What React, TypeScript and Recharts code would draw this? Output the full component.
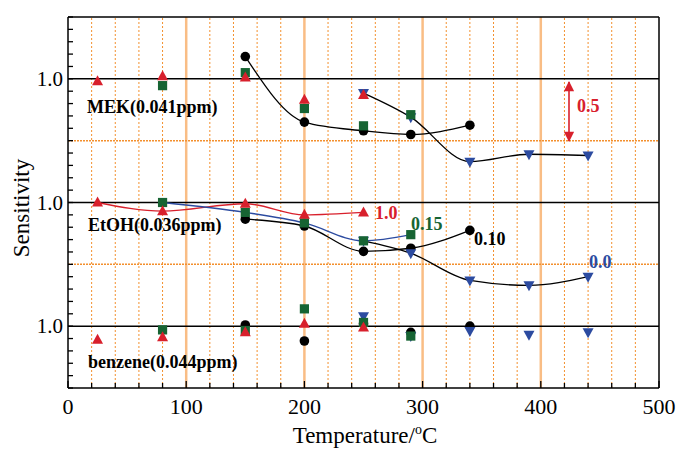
import React from 'react';
import { ComposedChart, Line, Scatter, XAxis, YAxis, ReferenceLine } from 'recharts';

// temperatures (°C) for each marker type
const tRed = [25, 80, 150, 200, 250];
const tGreen = [80, 150, 200, 250, 290];
const tBlack = [150, 200, 250, 290, 340];
const tBlue = [250, 290, 340, 390, 440];

// normalised sensitivity, MEK (0.041ppm) - drawn in the top panel
const mekRed = [0.98, 1.02, 1.01, 0.83, 0.87];
const mekGreen = [0.945, 1.05, 0.76, 0.62, 0.71];
const mekBlack = [1.18, 0.65, 0.58, 0.55, 0.625];
const mekBlue = [0.885, 0.69, 0.33, 0.39, 0.38];

// EtOH (0.036ppm) - middle panel
const etohRed = [1.0, 0.93, 0.99, 0.9, 0.92];
const etohGreen = [1.0, 0.92, 0.835, 0.69, 0.74];
const etohBlack = [0.865, 0.81, 0.605, 0.63, 0.775];
const etohBlue = [0.69, 0.59, 0.37, 0.33, 0.4];

// benzene (0.044ppm) - bottom panel
const benRed = [0.89, 0.91, 0.95, 1.02, 0.99];
const benGreen = [0.97, 0.965, 1.14, 1.03, 0.92];
const benBlack = [1.01, 0.88, 1.02, 0.95, 1.0];
const benBlue = [1.08, 0.92, 0.96, 0.93, 0.95];

// panel offsets on the stacked axis
const offMEK = 2;
const offEtOH = 1;
const offBen = 0;

const xTicks = [0, 20, 40, 60, 80, 100, 120, 140, 160, 180, 200, 220, 240, 260, 280, 300, 320, 340, 360, 380, 400, 420, 440, 460, 480, 500];
const xLabels = [0, 100, 200, 300, 400, 500];
const yTicks = [0.5, 0.6, 0.7, 0.8, 0.9, 1.0, 1.1, 1.2, 1.3, 1.4, 1.5, 1.6, 1.7, 1.8, 1.9, 2.0, 2.1, 2.2, 2.3, 2.4, 2.5, 2.6, 2.7, 2.8, 2.9, 3.0, 3.1, 3.2, 3.3, 3.4, 3.5];
const yLabelAt = [1, 2, 3];
const yLabelText = '1.0';

const gridDashed = [20, 40, 60, 80, 120, 140, 160, 180, 220, 240, 260, 280, 320, 340, 360, 380, 420, 440, 460, 480];
const gridSolid = [100, 200, 300, 400];
const panelLines = [1, 2, 3];
const halfLines = [1.5, 2.5];

const RED = '#d8202c';
const GREEN = '#176433';
const BLUE = '#2c4ba0';
const BLACK = '#000';
const ORANGE = '#f3902e';
const FONT = '"Liberation Serif", "DejaVu Serif", serif';

const pts = (t: number[], v: number[], off: number) => t.map((x, i) => ({ x, y: v[i] + off }));

const marker = (kind: string, color: string) => (props: any) => {
  const { cx, cy } = props;
  if (cx == null || cy == null) return <g />;
  if (kind === 'circle') return <circle cx={cx} cy={cy} r={4.8} fill={color} />;
  if (kind === 'square') return <rect x={cx - 4.6} y={cy - 4.6} width={9.2} height={9.2} fill={color} />;
  if (kind === 'up')
    return <polygon points={`${cx},${cy - 6} ${cx - 5.5},${cy + 4} ${cx + 5.5},${cy + 4}`} fill={color} />;
  return <polygon points={`${cx - 5.5},${cy - 4} ${cx + 5.5},${cy - 4} ${cx},${cy + 6}`} fill={color} />;
};

const XTick = (props: any) => {
  const { x, y, payload } = props;
  const v = payload.value;
  const major = v % 100 === 0;
  return (
    <g>
      <line x1={x} y1={y} x2={x} y2={y - (major ? 7 : 5)} stroke={BLACK} strokeWidth={1.3} />
      {xLabels.includes(v) && (
        <text x={x} y={y + 26} textAnchor="middle" fontFamily={FONT} fontSize={22} fill={BLACK}>
          {v}
        </text>
      )}
    </g>
  );
};

const YTick = (props: any) => {
  const { x, y, payload } = props;
  const v = Math.round(payload.value * 10) / 10;
  const plotLeft = x + 6;
  return (
    <g>
      <line x1={plotLeft} y1={y} x2={plotLeft + 5} y2={y} stroke={BLACK} strokeWidth={1.3} />
      {yLabelAt.includes(v) && (
        <text x={x + 1} y={y + 7} textAnchor="end" fontFamily={FONT} fontSize={21} fill={BLACK}>
          {yLabelText}
        </text>
      )}
    </g>
  );
};

const curves = [
  { data: pts(tBlack, mekBlack, offMEK), color: BLACK },
  { data: pts(tBlue, mekBlue, offMEK), color: BLACK },
  { data: pts(tRed, etohRed, offEtOH), color: RED },
  { data: pts(tGreen, etohGreen, offEtOH), color: BLUE },
  { data: pts(tBlack, etohBlack, offEtOH), color: BLACK },
  { data: pts(tBlue, etohBlue, offEtOH), color: BLACK },
];

const markers = [
  { data: [...pts(tBlack, mekBlack, offMEK), ...pts(tBlack, etohBlack, offEtOH), ...pts(tBlack, benBlack, offBen)], kind: 'circle', color: BLACK },
  { data: [...pts(tBlue, mekBlue, offMEK), ...pts(tBlue, etohBlue, offEtOH), ...pts(tBlue, benBlue, offBen)], kind: 'down', color: BLUE },
  { data: [...pts(tGreen, mekGreen, offMEK), ...pts(tGreen, etohGreen, offEtOH), ...pts(tGreen, benGreen, offBen)], kind: 'square', color: GREEN },
  { data: [...pts(tRed, mekRed, offMEK), ...pts(tRed, etohRed, offEtOH), ...pts(tRed, benRed, offBen)], kind: 'up', color: RED },
];

const txt = (x: number, y: number, s: string, color: string, size = 18) => (
  <text x={x} y={y} fontFamily={FONT} fontSize={size} fontWeight="bold" fill={color}>
    {s}
  </text>
);

export default function App() {
  return (
    <div style={{ position: 'absolute', left: 0, top: 0, width: 678, height: 449, background: '#fff' }}>
      <ComposedChart width={678} height={449} margin={{ top: 17, right: 19, left: 8, bottom: 0 }}>
        <XAxis
          dataKey="x"
          type="number"
          domain={[0, 500]}
          ticks={xTicks}
          interval={0}
          tickSize={0}
          tickMargin={0}
          tick={<XTick />}
          height={61}
          axisLine={{ stroke: BLACK, strokeWidth: 1.5 }}
          allowDataOverflow
        />
        <YAxis
          dataKey="y"
          type="number"
          domain={[0.5, 3.5]}
          ticks={yTicks}
          interval={0}
          tickSize={0}
          tickMargin={6}
          tick={<YTick />}
          width={60}
          axisLine={{ stroke: BLACK, strokeWidth: 1.5 }}
          allowDataOverflow
        />
        {gridDashed.map((v) => (
          <ReferenceLine key={'d' + v} x={v} stroke={ORANGE} strokeWidth={1} strokeDasharray="2 2" />
        ))}
        {gridSolid.map((v) => (
          <ReferenceLine key={'s' + v} x={v} stroke="#f9bd85" strokeWidth={2.5} />
        ))}
        {halfLines.map((v) => (
          <ReferenceLine key={'h' + v} y={v} stroke={ORANGE} strokeWidth={1.5} strokeDasharray="2 1" />
        ))}
        {panelLines.map((v) => (
          <ReferenceLine key={'p' + v} y={v} stroke={BLACK} strokeWidth={1.5} />
        ))}
        <ReferenceLine y={3.5} stroke={BLACK} strokeWidth={1.5} />
        <ReferenceLine x={500} stroke={BLACK} strokeWidth={1.5} />
        {curves.map((c, i) => (
          <Line
            key={'c' + i}
            data={c.data}
            dataKey="y"
            type="monotone"
            stroke={c.color}
            strokeWidth={1.3}
            dot={false}
            activeDot={false}
            isAnimationActive={false}
          />
        ))}
        {markers.map((m, i) => (
          <Scatter key={'m' + i} data={m.data} dataKey="y" shape={marker(m.kind, m.color)} isAnimationActive={false} />
        ))}
      </ComposedChart>
      <svg width={678} height={449} style={{ position: 'absolute', left: 0, top: 0, pointerEvents: 'none' }}>
        <defs>
          <marker id="ah" viewBox="0 0 10 10" refX="9" refY="5" markerWidth="8.5" markerHeight="6.5" orient="auto-start-reverse">
            <path d="M0,0 L10,5 L0,10 z" fill={RED} />
          </marker>
        </defs>
        {txt(87, 113, 'MEK(0.041ppm)', BLACK)}
        {txt(88, 231, 'EtOH(0.036ppm)', BLACK)}
        {txt(88, 368, 'benzene(0.044ppm)', BLACK)}
        {txt(375, 219, '1.0', RED)}
        {txt(411, 230, '0.15', GREEN)}
        {txt(474, 245, '0.10', BLACK)}
        {txt(589, 268, '0.0', BLUE)}
        {txt(577, 112, '0.5', RED)}
        <line x1={569} y1={82} x2={569} y2={141} stroke={RED} strokeWidth={1.6} markerStart="url(#ah)" markerEnd="url(#ah)" />
        <text x={365} y={443} textAnchor="middle" fontFamily={FONT} fontSize={23} fill={BLACK}>
          Temperature/<tspan dy={-9} fontSize={14}>o</tspan>
          <tspan dy={9}>C</tspan>
        </text>
        <text x={29} y={208} textAnchor="middle" fontFamily={FONT} fontSize={23} fill={BLACK} transform="rotate(-90 29 208)">
          Sensitivity
        </text>
      </svg>
    </div>
  );
}
